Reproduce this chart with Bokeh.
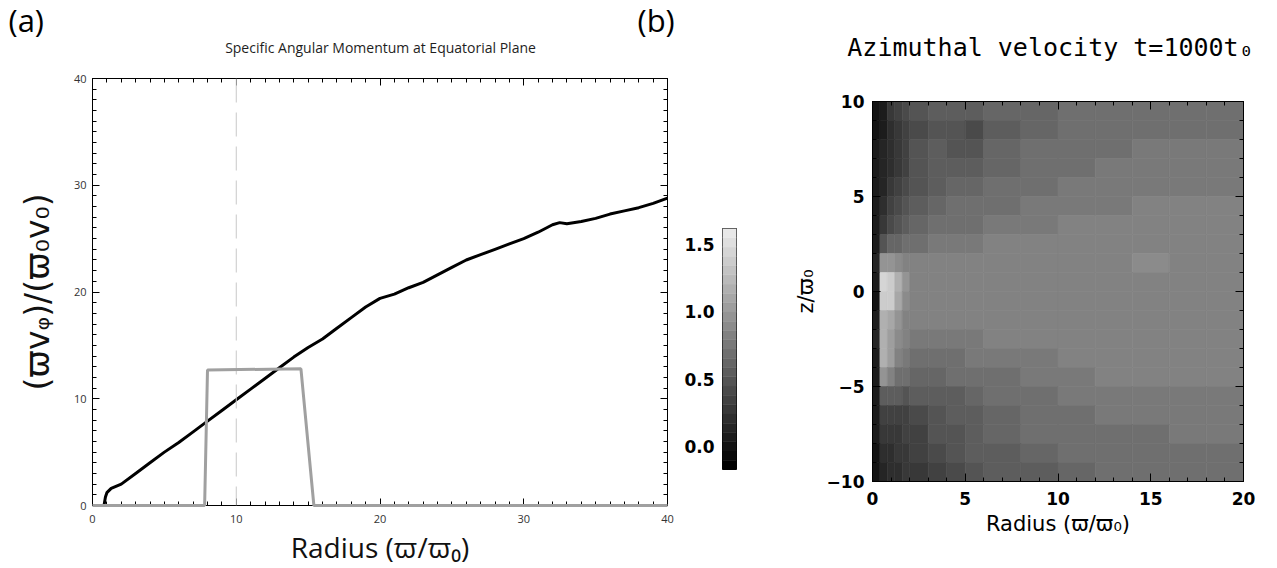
import numpy as np
from bokeh.plotting import figure
from bokeh.layouts import row, column
from bokeh.models import (LinearAxis, SingleIntervalTicker, FixedTicker, Span, Label,
                          LinearColorMapper, ColumnDataSource, Range1d, NumeralTickFormatter,
                          CustomJSTickFormatter)
from bokeh.embed import file_html
from bokeh.resources import INLINE

# ---------------------------------------------------------------- data
# specific angular momentum along the equatorial plane
radius = [0.8, 0.9, 1.0, 1.3, 2, 3, 4, 5, 6, 7, 8, 9, 10, 11, 12, 13, 14, 15, 16,
          17, 18, 19, 20, 21, 22, 23, 24, 25, 26, 27, 28, 29, 30, 31, 32, 32.5,
          33, 34, 35, 36, 37, 38, 39, 40]
ang_mom = [0.0, 0.8, 1.2, 1.6, 2.0, 3.0, 4.0, 5.0, 5.9, 6.9, 7.9, 8.9, 9.9, 10.9,
           11.9, 12.9, 13.9, 14.8, 15.6, 16.6, 17.6, 18.6, 19.4, 19.8, 20.4, 20.9,
           21.6, 22.3, 23.0, 23.5, 24.0, 24.5, 25.0, 25.6, 26.3, 26.5, 26.4, 26.6,
           26.9, 27.3, 27.6, 27.9, 28.3, 28.8]

# initial torus profile
torus_r = [0, 7.8, 8.0, 14.5, 15.4, 40]
torus_l = [0, 0, 12.7, 12.8, 0, 0]
ref_radius = 10

# azimuthal velocity map (rows from z = +10 down to z = -10)
r_edges = [0, 0.4, 0.8, 1.2, 1.6, 2, 3, 4, 5, 6, 8, 10, 12, 14, 16, 18, 20]
z_edges = list(range(10, -11, -1))
vphi = [
    [0.02, 0.08, 0.25, 0.35, 0.40, 0.48, 0.55, 0.58, 0.56, 0.60, 0.64, 0.68, 0.70, 0.72, 0.72, 0.72],
    [0.03, 0.10, 0.22, 0.30, 0.35, 0.42, 0.50, 0.45, 0.40, 0.55, 0.64, 0.68, 0.70, 0.72, 0.72, 0.72],
    [0.04, 0.12, 0.22, 0.28, 0.35, 0.45, 0.55, 0.48, 0.45, 0.60, 0.66, 0.70, 0.72, 0.73, 0.73, 0.73],
    [0.05, 0.14, 0.24, 0.30, 0.38, 0.48, 0.52, 0.55, 0.55, 0.63, 0.68, 0.72, 0.74, 0.75, 0.75, 0.75],
    [0.05, 0.16, 0.27, 0.34, 0.42, 0.50, 0.56, 0.60, 0.62, 0.66, 0.70, 0.74, 0.76, 0.77, 0.77, 0.77],
    [0.06, 0.20, 0.32, 0.40, 0.48, 0.56, 0.62, 0.66, 0.68, 0.70, 0.74, 0.76, 0.78, 0.80, 0.80, 0.80],
    [0.08, 0.28, 0.42, 0.50, 0.56, 0.64, 0.70, 0.72, 0.72, 0.74, 0.78, 0.80, 0.82, 0.82, 0.82, 0.82],
    [0.10, 0.45, 0.60, 0.62, 0.66, 0.72, 0.76, 0.78, 0.78, 0.80, 0.82, 0.82, 0.84, 0.86, 0.86, 0.84],
    [0.15, 0.95, 1.00, 0.90, 0.82, 0.80, 0.82, 0.84, 0.84, 0.84, 0.84, 0.86, 0.86, 0.88, 0.86, 0.86],
    [0.05, 1.45, 1.40, 1.15, 0.95, 0.86, 0.86, 0.86, 0.86, 0.86, 0.86, 0.86, 0.86, 0.86, 0.86, 0.86],
    [0.02, 1.40, 1.35, 1.10, 0.92, 0.86, 0.84, 0.84, 0.84, 0.86, 0.86, 0.86, 0.86, 0.86, 0.86, 0.86],
    [0.10, 1.20, 1.10, 0.95, 0.86, 0.82, 0.82, 0.80, 0.80, 0.82, 0.84, 0.84, 0.84, 0.86, 0.86, 0.86],
    [0.12, 1.15, 1.05, 0.90, 0.80, 0.76, 0.76, 0.76, 0.78, 0.80, 0.82, 0.82, 0.84, 0.84, 0.84, 0.84],
    [0.10, 1.20, 1.05, 0.85, 0.76, 0.72, 0.70, 0.72, 0.74, 0.76, 0.78, 0.80, 0.84, 0.84, 0.82, 0.82],
    [0.08, 0.95, 0.85, 0.72, 0.66, 0.64, 0.64, 0.66, 0.68, 0.70, 0.74, 0.78, 0.80, 0.80, 0.80, 0.80],
    [0.06, 0.55, 0.55, 0.52, 0.50, 0.52, 0.55, 0.58, 0.62, 0.66, 0.70, 0.74, 0.76, 0.78, 0.78, 0.78],
    [0.05, 0.35, 0.35, 0.36, 0.38, 0.44, 0.50, 0.52, 0.56, 0.62, 0.68, 0.72, 0.74, 0.76, 0.76, 0.76],
    [0.04, 0.25, 0.26, 0.30, 0.32, 0.38, 0.45, 0.50, 0.55, 0.60, 0.66, 0.70, 0.72, 0.72, 0.74, 0.74],
    [0.03, 0.20, 0.22, 0.26, 0.30, 0.35, 0.42, 0.48, 0.52, 0.56, 0.62, 0.68, 0.70, 0.72, 0.72, 0.72],
    [0.02, 0.15, 0.20, 0.22, 0.26, 0.30, 0.36, 0.42, 0.48, 0.52, 0.56, 0.62, 0.66, 0.70, 0.70, 0.70],
]
v_low, v_high = -0.17, 1.62
cbar_ticks = [0.0, 0.5, 1.0, 1.5]
n_levels = 26

# ---------------------------------------------------------------- helpers
blank = CustomJSTickFormatter(code="return ''")
HEADER = 66
BODY = 568 - HEADER


def idl_ticks(ax, major=7, minor=4):
    ax.major_tick_in = major
    ax.major_tick_out = 0
    ax.minor_tick_in = minor
    ax.minor_tick_out = 0
    ax.axis_line_color = "black"
    ax.major_tick_line_color = "black"
    ax.minor_tick_line_color = "black"


def mirror_axes(p, xticker, yticker, major=7, minor=4):
    top = LinearAxis(ticker=xticker, formatter=blank)
    right = LinearAxis(ticker=yticker, formatter=blank)
    for ax in (top, right):
        idl_ticks(ax, major, minor)
        ax.major_label_standoff = 0
    p.add_layout(top, "above")
    p.add_layout(right, "right")


grays = [int(round(g)) for g in np.linspace(0, 232, n_levels)]
palette = ["#%02x%02x%02x" % (g, g, g) for g in grays]
mapper = LinearColorMapper(palette=palette, low=v_low, high=v_high)

# ---------------------------------------------------------------- header strip
head = figure(width=1277, height=HEADER, output_backend="svg", toolbar_location=None,
              title=None, x_axis_type=None, y_axis_type=None, frame_align=False,
              x_range=Range1d(0, 1), y_range=Range1d(0, 1), min_border=0,
              outline_line_color=None)
head.grid.visible = False
for txt, x in (("(a)", 8), ("(b)", 637)):
    head.add_layout(Label(x=x, y=HEADER - 19, x_units="screen", y_units="screen", text=txt,
                          text_baseline="middle", text_font="Open Sans",
                          text_font_size="31px", text_color="black"))
head.add_layout(Label(x=380, y=HEADER - 47, x_units="screen", y_units="screen",
                      text="Specific Angular Momentum at Equatorial Plane",
                      text_align="center", text_baseline="middle", text_font="Open Sans",
                      text_font_size="14px", text_font_style="normal", text_color="#1e1e1e"))
head.add_layout(Label(x=1050, y=HEADER - 47, x_units="screen", y_units="screen",
                      text="Azimuthal velocity t=1000t₀", text_align="center",
                      text_baseline="middle", text_font="DejaVu Sans Mono",
                      text_font_size="25px", text_color="black"))

# ---------------------------------------------------------------- panel (a)
pa = figure(width=680, height=BODY, output_backend="svg", toolbar_location=None,
            title=None, x_range=Range1d(0, 40), y_range=Range1d(0, 40), frame_align=False,
            min_border_left=92, min_border_right=13, min_border_top=78 - HEADER,
            min_border_bottom=61, outline_line_color="black")
pa.grid.visible = False
xt_a = SingleIntervalTicker(interval=10, num_minor_ticks=10)
yt_a = SingleIntervalTicker(interval=10, num_minor_ticks=10)
pa.xaxis.ticker = xt_a
pa.yaxis.ticker = yt_a
for ax in (pa.xaxis[0], pa.yaxis[0]):
    idl_ticks(ax)
    ax.major_label_text_font = "Open Sans"
    ax.major_label_text_font_size = "11px"
    ax.major_label_text_color = "#333333"
    ax.axis_label_text_font_style = "normal"
    ax.axis_label_text_color = "#111111"
pa.xaxis.major_label_standoff = 9
pa.xaxis.axis_label = "Radius (ϖ/ϖ₀)"
pa.xaxis.axis_label_text_font = "Open Sans"
pa.xaxis.axis_label_text_font_size = "28px"
pa.xaxis.axis_label_standoff = 2
pa.yaxis.major_label_standoff = 6
pa.yaxis.axis_label = "(ϖvᵩ)/(ϖ₀v₀)"
pa.yaxis.axis_label_text_font = "DejaVu Sans"
pa.yaxis.axis_label_text_font_size = "33px"
pa.yaxis.axis_label_standoff = 14
mirror_axes(pa, xt_a, yt_a)

pa.add_layout(Span(location=ref_radius, dimension="height", line_color="#c8c8c8",
                   line_width=1, line_dash="24 10"))
pa.line(torus_r, torus_l, line_color="#a0a0a0", line_width=3, level="overlay")
pa.line(radius, ang_mom, line_color="black", line_width=3)

# ---------------------------------------------------------------- colour bar
cb = figure(width=110, height=BODY, output_backend="svg", toolbar_location=None,
            title=None, x_range=Range1d(0, 1), y_range=Range1d(v_low, v_high),
            frame_align=False, min_border_left=42, min_border_right=54,
            min_border_top=228 - HEADER, min_border_bottom=99, outline_line_color="black")
cb.grid.visible = False
cb.xaxis.visible = False
levels = np.linspace(v_low, v_high, n_levels + 1)
cb.quad(left=0, right=1, bottom=levels[:-1], top=levels[1:],
        fill_color=palette, line_color=palette, line_width=0.5)
cb.yaxis.ticker = FixedTicker(ticks=cbar_ticks)
cb.yaxis.formatter = NumeralTickFormatter(format="0.0")
cb.yaxis.major_tick_out = 0
cb.yaxis.major_tick_in = 0
cb.yaxis.minor_tick_out = 0
cb.yaxis.axis_line_color = None
cb.yaxis.major_label_standoff = 8
cb.yaxis.major_label_text_font = "DejaVu Sans"
cb.yaxis.major_label_text_font_style = "bold"
cb.yaxis.major_label_text_font_size = "17px"
cb.yaxis.major_label_text_color = "black"

# ---------------------------------------------------------------- panel (b)
pb = figure(width=487, height=BODY, output_backend="svg", toolbar_location=None,
            title=None, x_range=Range1d(0, 20), y_range=Range1d(-10, 10), frame_align=False,
            min_border_left=68, min_border_right=34, min_border_top=101 - HEADER,
            min_border_bottom=87, outline_line_color="black")
pb.grid.visible = False
lefts, rights, bottoms, tops, vals = [], [], [], [], []
for i, row_vals in enumerate(vphi):
    for j, v in enumerate(row_vals):
        lefts.append(r_edges[j]); rights.append(r_edges[j + 1])
        tops.append(z_edges[i]); bottoms.append(z_edges[i + 1])
        vals.append(v)
src = ColumnDataSource(dict(left=lefts, right=rights, bottom=bottoms, top=tops, v=vals))
pb.quad(left="left", right="right", bottom="bottom", top="top", source=src,
        fill_color={"field": "v", "transform": mapper},
        line_color={"field": "v", "transform": mapper}, line_width=0.6)

xt_b = SingleIntervalTicker(interval=5, num_minor_ticks=5)
yt_b = SingleIntervalTicker(interval=5, num_minor_ticks=5)
pb.xaxis.ticker = xt_b
pb.yaxis.ticker = yt_b
for ax in (pb.xaxis[0], pb.yaxis[0]):
    idl_ticks(ax, 8, 4)
    ax.major_label_text_font = "DejaVu Sans"
    ax.major_label_text_font_style = "bold"
    ax.major_label_text_font_size = "17px"
    ax.major_label_text_color = "black"
    ax.axis_label_text_font = "DejaVu Sans"
    ax.axis_label_text_font_style = "normal"
    ax.axis_label_text_font_size = "21px"
    ax.axis_label_text_color = "black"
pb.xaxis.major_label_standoff = 10
pb.xaxis.axis_label = "Radius (ϖ/ϖ₀)"
pb.xaxis.axis_label_standoff = 4
pb.yaxis.major_label_standoff = 8
pb.yaxis.axis_label = "z/ϖ₀"
pb.yaxis.axis_label_standoff = 6
mirror_axes(pb, xt_b, yt_b, 8, 4)

layout = column(head, row(pa, cb, pb, spacing=0), spacing=0)
open("out.html", "w").write(file_html(layout, INLINE))
